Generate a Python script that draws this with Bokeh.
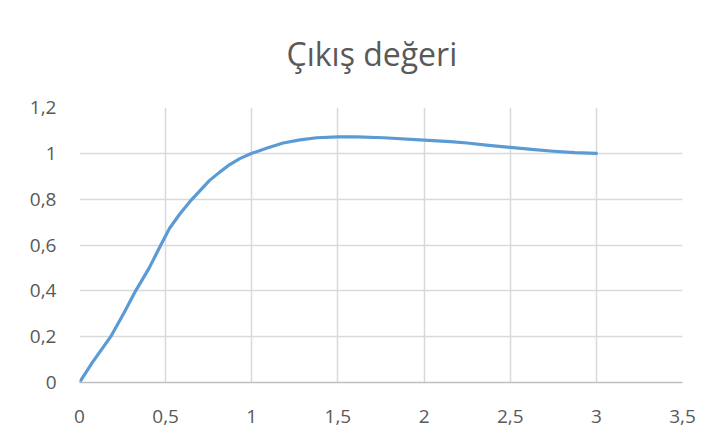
from bokeh.plotting import figure
from bokeh.models import Range1d, FixedTicker
from bokeh.embed import file_html
from bokeh.resources import INLINE

# data
x_vals = [0, 0.074, 0.181, 0.258, 0.326, 0.404, 0.472, 0.522, 0.581, 0.639, 0.697,
          0.755, 0.814, 0.872, 0.930, 1.0, 1.085, 1.182, 1.280, 1.377, 1.5, 1.61,
          1.765, 2.0, 2.153, 2.25, 2.375, 2.5, 2.625, 2.75, 2.875, 3.0]
y_vals = [0, 0.087, 0.2, 0.303, 0.4, 0.499, 0.6, 0.672, 0.734, 0.788, 0.835,
          0.882, 0.918, 0.951, 0.977, 1.0, 1.022, 1.045, 1.059, 1.068, 1.072, 1.072,
          1.068, 1.058, 1.051, 1.045, 1.035, 1.026, 1.017, 1.009, 1.003, 1.0]

x_ticks = [0, 0.5, 1, 1.5, 2, 2.5, 3, 3.5]
x_tick_labels = ["0", "0,5", "1", "1,5", "2", "2,5", "3", "3,5"]
y_ticks = [0, 0.2, 0.4, 0.6, 0.8, 1.0, 1.2]
y_tick_labels = ["0", "0,2", "0,4", "0,6", "0,8", "1", "1,2"]

title_text = "Çıkış değeri"

FONT = "Open Sans"
TXT = "#595959"
GRID = "#d9d9d9"

p = figure(width=701, height=434, output_backend="svg", toolbar_location=None,
           x_range=Range1d(0, 3.5), y_range=Range1d(0, 1.2),
           min_border_left=79, min_border_right=19, min_border_top=106, min_border_bottom=52,
           title=title_text)
p.outline_line_color = None
p.background_fill_color = "white"
p.border_fill_color = "white"

p.title.align = "left"
p.title.vertical_align = "top"
p.title.offset = 207
p.title.standoff = 62
p.title.text_font = FONT
p.title.text_font_size = "32px"
p.title.text_font_style = "normal"
p.title.text_color = TXT

p.xaxis.ticker = FixedTicker(ticks=x_ticks)
p.yaxis.ticker = FixedTicker(ticks=y_ticks)
p.xaxis.major_label_overrides = {t: l for t, l in zip(x_ticks, x_tick_labels)}
p.yaxis.major_label_overrides = {t: l for t, l in zip(y_ticks, y_tick_labels)}

for ax in (p.xaxis, p.yaxis):
    ax.major_tick_line_color = None
    ax.minor_tick_line_color = None
    ax.major_tick_out = 0
    ax.major_tick_in = 0
    ax.major_label_text_font = FONT
    ax.major_label_text_font_size = "19px"
    ax.major_label_text_color = TXT
p.xaxis.axis_line_color = "#bfbfbf"
p.xaxis.axis_line_width = 1.5
p.yaxis.axis_line_color = None
p.xaxis.major_label_standoff = 27
p.yaxis.major_label_standoff = 23

p.xgrid.ticker = FixedTicker(ticks=x_ticks)
p.ygrid.ticker = FixedTicker(ticks=y_ticks)
p.xgrid.grid_line_color = GRID
p.ygrid.grid_line_color = GRID
p.xgrid.grid_line_width = 1.5
p.ygrid.grid_line_width = 1.5

p.line(x_vals, y_vals, line_color="#5B9BD5", line_width=3.2, line_join="round", line_cap="round")

open("out.html", "w").write(file_html(p, INLINE))
